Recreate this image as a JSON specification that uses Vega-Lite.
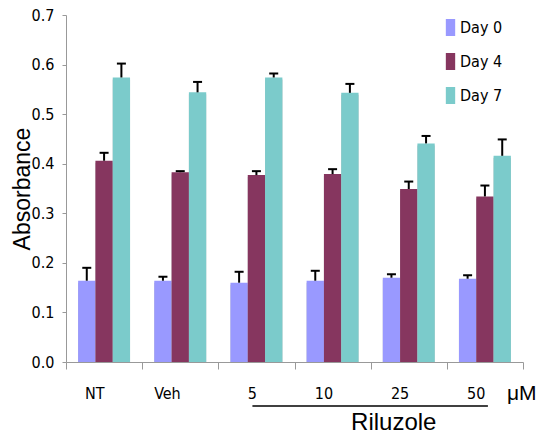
{
  "$schema": "https://vega.github.io/schema/vega-lite/v6.json",
  "width": 457,
  "height": 347,
  "autosize": {"type": "none"},
  "padding": {"left": 66, "top": 15, "right": 18, "bottom": 80},
  "background": "white",
  "config": {"view": {"stroke": null}},
  "datasets": {
    "bars": [
      {"group": "NT", "day": "Day 0", "value": 0.164, "err": 0.190},
      {"group": "NT", "day": "Day 4", "value": 0.406, "err": 0.422},
      {"group": "NT", "day": "Day 7", "value": 0.574, "err": 0.602},
      {"group": "Veh", "day": "Day 0", "value": 0.164, "err": 0.172},
      {"group": "Veh", "day": "Day 4", "value": 0.383, "err": 0.385},
      {"group": "Veh", "day": "Day 7", "value": 0.544, "err": 0.565},
      {"group": "5", "day": "Day 0", "value": 0.160, "err": 0.182},
      {"group": "5", "day": "Day 4", "value": 0.377, "err": 0.385},
      {"group": "5", "day": "Day 7", "value": 0.574, "err": 0.582},
      {"group": "10", "day": "Day 0", "value": 0.164, "err": 0.184},
      {"group": "10", "day": "Day 4", "value": 0.379, "err": 0.389},
      {"group": "10", "day": "Day 7", "value": 0.543, "err": 0.561},
      {"group": "25", "day": "Day 0", "value": 0.170, "err": 0.177},
      {"group": "25", "day": "Day 4", "value": 0.349, "err": 0.364},
      {"group": "25", "day": "Day 7", "value": 0.441, "err": 0.456},
      {"group": "50", "day": "Day 0", "value": 0.168, "err": 0.175},
      {"group": "50", "day": "Day 4", "value": 0.334, "err": 0.356},
      {"group": "50", "day": "Day 7", "value": 0.416, "err": 0.449}
    ],
    "notes": [
      {"group": "25", "y": -0.124, "text": "Riluzole", "kind": "title"},
      {"group": "50", "y": -0.064, "text": "μM", "kind": "unit"}
    ],
    "line": [
      {"from": "5", "to": "50", "y": -0.089}
    ]
  },
  "layer": [
    {
      "data": {"name": "bars"},
      "mark": {"type": "bar", "color": "#BDBDBD", "xOffset": 2.5, "yOffset": 2, "y2Offset": 0},
      "encoding": {
        "x": {"field": "group", "type": "nominal", "sort": null},
        "xOffset": {"field": "day", "type": "nominal", "scale": {"paddingInner": 0, "paddingOuter": 0.7}},
        "y": {"field": "value", "type": "quantitative"},
        "y2": {"datum": 0}
      }
    },
    {
      "data": {"name": "bars"},
      "mark": {"type": "bar"},
      "encoding": {
        "x": {
          "field": "group", "type": "nominal", "sort": null,
          "scale": {"paddingInner": 0, "paddingOuter": 0},
          "axis": {
            "title": null, "labelAngle": 0, "tickBand": "extent", "tickSize": 7,
            "domainColor": "#999999", "tickColor": "#999999",
            "labelFont": "DejaVu Sans Condensed", "labelFontSize": 16, "labelColor": "#000000",
            "labelPadding": 24
          }
        },
        "xOffset": {"field": "day", "type": "nominal", "scale": {"paddingInner": 0, "paddingOuter": 0.7}},
        "y": {
          "field": "value", "type": "quantitative",
          "scale": {"domain": [0, 0.7]},
          "axis": {
            "title": "Absorbance", "values": [0, 0.1, 0.2, 0.3, 0.4, 0.5, 0.6, 0.7],
            "grid": false, "tickSize": 4, "domainColor": "#999999", "tickColor": "#999999",
            "labelFont": "DejaVu Sans Condensed", "labelFontSize": 16, "labelColor": "#000000",
            "labelPadding": 8,
            "titleFont": "Liberation Sans", "titleFontSize": 23, "titleFontWeight": "normal",
            "titleColor": "#000000", "titlePadding": -3
          }
        },
        "color": {
          "field": "day", "type": "nominal",
          "scale": {"domain": ["Day 0", "Day 4", "Day 7"], "range": ["#9999FF", "#86365F", "#7BCBCB"]},
          "legend": {
            "title": null, "orient": "none", "legendX": 376, "legendY": 4, "padding": 0,
            "symbolType": "M-0.55,-1H0.55V1H-0.55Z", "symbolSize": 289, "symbolStrokeWidth": 0,
            "labelFont": "DejaVu Sans Condensed", "labelFontSize": 16, "labelColor": "#000000",
            "labelOffset": 1, "rowPadding": 17
          }
        }
      }
    },
    {
      "data": {"name": "bars"},
      "mark": {"type": "rule", "color": "#000000", "strokeWidth": 2},
      "encoding": {
        "x": {"field": "group", "type": "nominal", "sort": null},
        "xOffset": {"field": "day", "type": "nominal", "scale": {"paddingInner": 0, "paddingOuter": 0.7}},
        "y": {"field": "value", "type": "quantitative"},
        "y2": {"field": "err"}
      }
    },
    {
      "data": {"name": "bars"},
      "mark": {"type": "tick", "color": "#000000", "orient": "horizontal", "size": 9, "thickness": 2, "opacity": 1},
      "encoding": {
        "x": {"field": "group", "type": "nominal", "sort": null},
        "xOffset": {"field": "day", "type": "nominal", "scale": {"paddingInner": 0, "paddingOuter": 0.7}},
        "y": {"field": "err", "type": "quantitative"}
      }
    },
    {
      "data": {"name": "line"},
      "mark": {"type": "rule", "color": "#000000", "strokeWidth": 1.5, "clip": false, "xOffset": -4, "x2Offset": 3},
      "encoding": {
        "x": {"field": "from", "type": "nominal", "sort": null},
        "x2": {"field": "to"},
        "y": {"field": "y", "type": "quantitative"}
      }
    },
    {
      "data": {"name": "notes"},
      "transform": [{"filter": "datum.kind === 'title'"}],
      "mark": {"type": "text", "font": "Liberation Sans", "fontSize": 24, "color": "#000000", "clip": false, "align": "center", "baseline": "middle", "dx": -15},
      "encoding": {
        "x": {"field": "group", "type": "nominal", "sort": null},
        "y": {"field": "y", "type": "quantitative"},
        "text": {"field": "text"}
      }
    },
    {
      "data": {"name": "notes"},
      "transform": [{"filter": "datum.kind === 'unit'"}],
      "mark": {"type": "text", "font": "Liberation Sans", "fontSize": 21, "color": "#000000", "clip": false, "align": "left", "baseline": "middle", "dx": 22},
      "encoding": {
        "x": {"field": "group", "type": "nominal", "sort": null},
        "y": {"field": "y", "type": "quantitative"},
        "text": {"field": "text"}
      }
    }
  ],
  "resolve": {"scale": {"xOffset": "shared"}}
}
